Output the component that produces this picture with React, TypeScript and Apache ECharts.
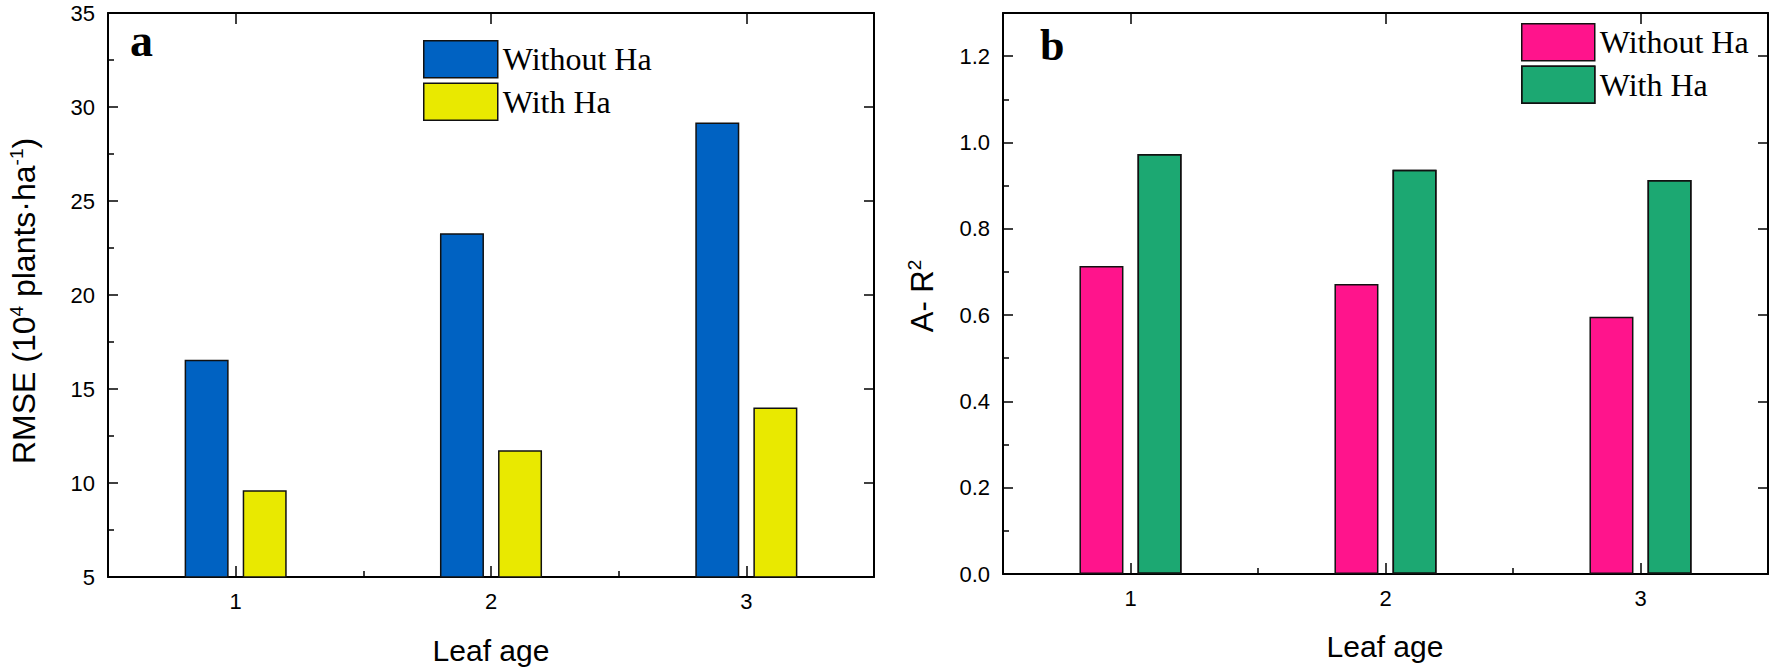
import React, { useEffect, useRef } from "react";
import * as echarts from "echarts";

// ---- data ----
const categories = ["1", "2", "3"];
const seriesNames = ["Without Ha", "With Ha"];
const rmseWithout = [16.55, 23.28, 29.17];
const rmseWith = [9.62, 11.74, 14.02];
const r2Without = [0.714, 0.672, 0.596];
const r2With = [0.973, 0.937, 0.913];
const rmseAxis = { min: 5, max: 35, interval: 5 };
const r2Axis = { min: 0, max: 1.3, interval: 0.2 };

const ZW = "\u200B"; // suffix to keep right-panel series names distinct

const SANS = "Liberation Sans, Arial, sans-serif";
const SERIF = "Liberation Serif, Times New Roman, serif";

const COLORS = {
  blue: "#0062C2",
  yellow: "#E9E900",
  pink: "#FF148C",
  green: "#1CA872",
};

function axesFor(gridIndex: number, yCfg: { min: number; max: number; interval: number }, fmt: (v: number) => string) {
  const line = { show: true, lineStyle: { color: "#000", width: 2 } };
  const xAxes = [
    {
      type: "category",
      gridIndex,
      data: categories,
      position: "bottom",
      axisLine: line,
      axisTick: { show: true, inside: true, alignWithLabel: true, length: 11, lineStyle: { color: "#000", width: 1.5 } },
      axisLabel: { show: true, margin: 13, fontSize: 22, fontFamily: SANS, color: "#000" },
      splitLine: { show: false },
    },
    {
      type: "category",
      gridIndex,
      data: categories,
      position: "bottom",
      axisLine: { show: false },
      axisTick: { show: true, inside: true, length: 6, lineStyle: { color: "#000", width: 1.5 } },
      axisLabel: { show: false },
      splitLine: { show: false },
    },
    {
      type: "category",
      gridIndex,
      data: categories,
      position: "top",
      axisLine: line,
      axisTick: { show: true, inside: true, alignWithLabel: true, length: 11, lineStyle: { color: "#000", width: 1.5 } },
      axisLabel: { show: false },
      splitLine: { show: false },
    },
  ];
  const yAxes = [
    {
      type: "value",
      gridIndex,
      position: "left",
      min: yCfg.min,
      max: yCfg.max,
      interval: yCfg.interval,
      axisLine: line,
      axisTick: { show: true, inside: true, length: 10, lineStyle: { color: "#000", width: 1.5 } },
      minorTick: { show: true, splitNumber: 2, length: 6, lineStyle: { color: "#000", width: 1.5 } },
      axisLabel: {
        show: true,
        margin: 13,
        fontSize: 22,
        fontFamily: SANS,
        color: "#000",
        showMaxLabel: yCfg.max % yCfg.interval === 0 ? true : false,
        formatter: (v: number) => fmt(v),
      },
      splitLine: { show: false },
    },
    {
      type: "value",
      gridIndex,
      position: "right",
      min: yCfg.min,
      max: yCfg.max,
      interval: yCfg.interval,
      axisLine: line,
      axisTick: { show: true, inside: true, length: 10, lineStyle: { color: "#000", width: 1.5 } },
      axisLabel: { show: false },
      splitLine: { show: false },
    },
  ];
  return { xAxes, yAxes };
}

export default function App() {
  const ref = useRef<HTMLDivElement>(null);

  useEffect(() => {
    if (!ref.current) return;
    const chart = echarts.init(ref.current, null, { renderer: "svg" });

    const a = axesFor(0, rmseAxis, (v) => String(v));
    const b = axesFor(1, r2Axis, (v) => v.toFixed(1));

    const barBorder = { borderColor: "#111", borderWidth: 1.5 };

    const option: any = {
      animation: false,
      backgroundColor: "#fff",
      grid: [
        { left: 108, top: 13, width: 766, height: 564 },
        { left: 1003, top: 13, width: 765, height: 561 },
      ],
      xAxis: [...a.xAxes, ...b.xAxes],
      yAxis: [...a.yAxes, ...b.yAxes],
      legend: [
        {
          orient: "vertical",
          left: 418,
          top: 35,
          itemWidth: 74,
          itemHeight: 37,
          itemGap: 4,
          icon: "rect",
          selectedMode: false,
          data: seriesNames,
          textStyle: { fontSize: 32, fontFamily: SERIF, color: "#000" },
          itemStyle: { borderColor: "#111", borderWidth: 1.5 },
        },
        {
          orient: "vertical",
          left: 1516,
          top: 18,
          itemWidth: 73,
          itemHeight: 37,
          itemGap: 4,
          icon: "rect",
          selectedMode: false,
          data: seriesNames.map((n) => n + ZW),
          formatter: (n: string) => n.replace(ZW, ""),
          textStyle: { fontSize: 32, fontFamily: SERIF, color: "#000" },
          itemStyle: { borderColor: "#111", borderWidth: 1.5 },
        },
      ],
      series: [
        {
          type: "bar",
          name: seriesNames[0],
          xAxisIndex: 0,
          yAxisIndex: 0,
          data: rmseWithout,
          barWidth: 44,
          barGap: "32%",
          itemStyle: { color: COLORS.blue, ...barBorder },
        },
        {
          type: "bar",
          name: seriesNames[1],
          xAxisIndex: 0,
          yAxisIndex: 0,
          data: rmseWith,
          barWidth: 44,
          barGap: "32%",
          itemStyle: { color: COLORS.yellow, ...barBorder },
        },
        {
          type: "bar",
          name: seriesNames[0] + ZW,
          xAxisIndex: 3,
          yAxisIndex: 2,
          data: r2Without,
          barWidth: 44,
          barGap: "32%",
          itemStyle: { color: COLORS.pink, ...barBorder },
        },
        {
          type: "bar",
          name: seriesNames[1] + ZW,
          xAxisIndex: 3,
          yAxisIndex: 2,
          data: r2With,
          barWidth: 44,
          barGap: "32%",
          itemStyle: {
            color: COLORS.green,
            ...barBorder,
            decal: {
              symbol: "circle",
              symbolSize: 0.6,
              color: "rgba(200,200,255,0.55)",
              dashArrayX: [[1, 3]],
              dashArrayY: [1, 4],
              rotation: 0.5,
            },
          },
        },
      ],
      graphic: [
        {
          type: "text",
          x: 130,
          y: 40,
          style: { text: "a", font: `bold 46px ${SERIF}`, fill: "#000", align: "left", verticalAlign: "middle" },
        },
        {
          type: "text",
          x: 1040,
          y: 45,
          style: { text: "b", font: `bold 44px ${SERIF}`, fill: "#000", align: "left", verticalAlign: "middle" },
        },
        {
          type: "text",
          x: 24,
          y: 301,
          rotation: Math.PI / 2,
          style: {
            text: "RMSE (10{sup|4} plants·ha{sup|-1})",
            fontSize: 32,
            fontFamily: SANS,
            lineHeight: 34,
            fill: "#000",
            align: "center",
            verticalAlign: "middle",
            rich: {
              sup: { fontSize: 19, fontFamily: SANS, lineHeight: 19, verticalAlign: "top", fill: "#000" },
            },
          },
        },
        {
          type: "text",
          x: 922,
          y: 296,
          rotation: Math.PI / 2,
          style: {
            text: "A- R{sup|2}",
            fontSize: 31,
            fontFamily: SANS,
            lineHeight: 34,
            fill: "#000",
            align: "center",
            verticalAlign: "middle",
            rich: {
              sup: { fontSize: 19, fontFamily: SANS, lineHeight: 19, verticalAlign: "top", fill: "#000" },
            },
          },
        },
        {
          type: "text",
          x: 491,
          y: 650,
          style: { text: "Leaf age", font: `30px ${SANS}`, fill: "#000", align: "center", verticalAlign: "middle" },
        },
        {
          type: "text",
          x: 1385,
          y: 646,
          style: { text: "Leaf age", font: `30px ${SANS}`, fill: "#000", align: "center", verticalAlign: "middle" },
        },
      ],
    };

    chart.setOption(option);
    return () => chart.dispose();
  }, []);

  return (
    <div
      ref={ref}
      style={{ position: "fixed", left: 0, top: 0, width: 1772, height: 671, background: "#fff" }}
    />
  );
}
